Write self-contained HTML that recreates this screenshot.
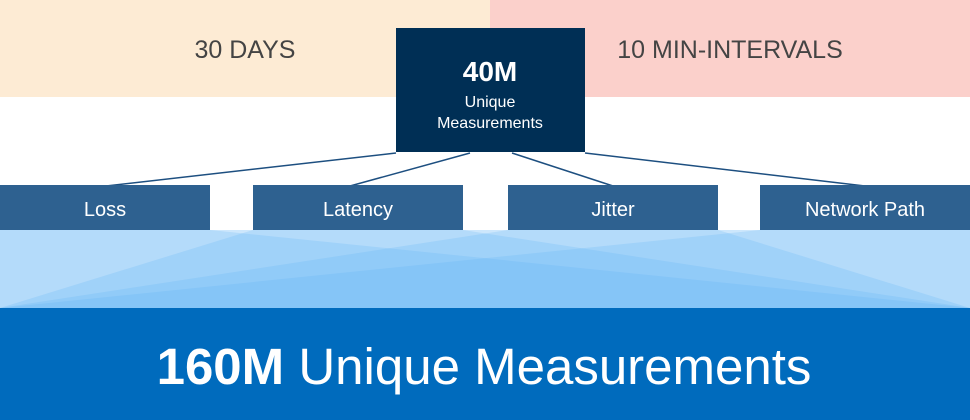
<!DOCTYPE html>
<html><head><style>
body{margin:0;width:970px;height:420px;overflow:hidden;background:#fff;font-family:"Liberation Sans",sans-serif}
</style></head><body>
<svg width="970" height="420" xmlns="http://www.w3.org/2000/svg" style="position:absolute;left:0;top:0">
<rect x="0" y="0" width="490" height="97" fill="#fdebd4"/>
<rect x="490" y="0" width="480" height="97" fill="#fbd0cb"/>
<text x="245" y="58" font-size="25" fill="#444" text-anchor="middle" font-family="Liberation Sans">30 DAYS</text>
<text x="730" y="58" font-size="25" fill="#444" text-anchor="middle" font-family="Liberation Sans">10 MIN-INTERVALS</text>
<rect x="0" y="230" width="970" height="78" fill="#cde7fc"/>
<g fill="#5ab0f8" fill-opacity="0.22">
<polygon points="0,230 210,230 970,308 0,308"/>
<polygon points="253,230 463,230 970,308 0,308"/>
<polygon points="508,230 718,230 970,308 0,308"/>
<polygon points="760,230 970,230 970,308 0,308"/>
</g>
<rect x="0" y="308" width="970" height="112" fill="#006bbd"/>
<g stroke="#1d4f80" stroke-width="1.5">
<line x1="396" y1="153" x2="106" y2="186"/>
<line x1="470" y1="153" x2="350" y2="186"/>
<line x1="512" y1="153" x2="613" y2="186"/>
<line x1="585" y1="153" x2="865" y2="186"/>
</g>
<rect x="396" y="28" width="189" height="124" fill="#002f55"/>
<text x="490" y="81" font-size="28" font-weight="bold" fill="#fff" text-anchor="middle" font-family="Liberation Sans">40M</text>
<text x="490" y="107" font-size="16" fill="#fff" text-anchor="middle" font-family="Liberation Sans">Unique</text>
<text x="490" y="128" font-size="16" fill="#fff" text-anchor="middle" font-family="Liberation Sans">Measurements</text>
<g fill="#2e6190">
<rect x="0" y="185" width="210" height="45"/>
<rect x="253" y="185" width="210" height="45"/>
<rect x="508" y="185" width="210" height="45"/>
<rect x="760" y="185" width="210" height="45"/>
</g>
<g fill="#fff" font-size="20" text-anchor="middle" font-family="Liberation Sans">
<text x="105" y="216">Loss</text>
<text x="358" y="216">Latency</text>
<text x="613" y="216">Jitter</text>
<text x="865" y="216">Network Path</text>
</g>
<text x="484" y="384" font-size="51" fill="#fff" text-anchor="middle" font-family="Liberation Sans"><tspan font-weight="bold">160M</tspan> Unique Measurements</text>
</svg>
</body></html>
